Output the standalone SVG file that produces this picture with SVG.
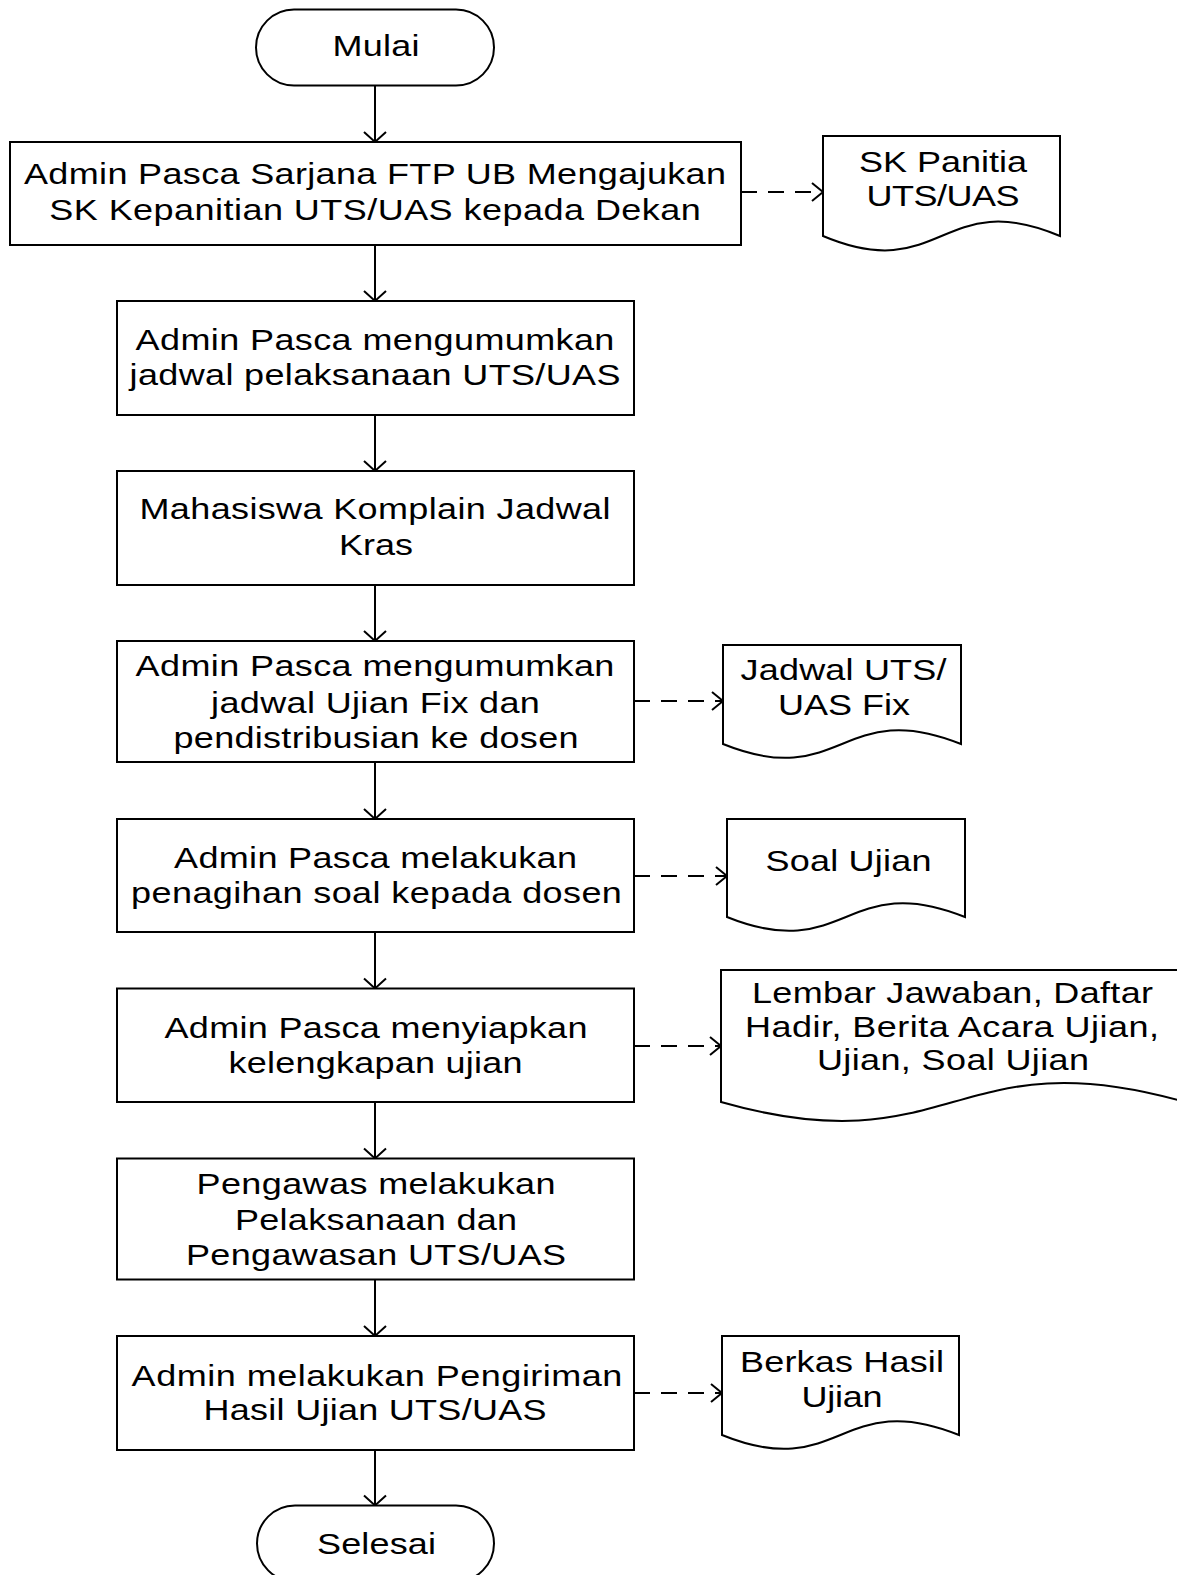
<svg xmlns="http://www.w3.org/2000/svg" width="1177" height="1575" viewBox="0 0 1177 1575">
<style>
.s{fill:#fff;stroke:#000;stroke-width:2}
.t{font-family:"Liberation Sans",Arial,sans-serif;font-size:30px;fill:#000;text-anchor:middle}
.c{fill:none;stroke:#000;stroke-width:2}
.d{fill:none;stroke:#000;stroke-width:2;stroke-dasharray:16 11}
</style>
<defs>
<marker id="ah" markerUnits="userSpaceOnUse" markerWidth="30" markerHeight="30" viewBox="-15 -15 30 30" refX="0" refY="0" orient="auto">
<path d="M-10,-11 L0,0 L-10,11" fill="none" stroke="#000" stroke-width="2"/>
</marker>
<marker id="ah2" markerUnits="userSpaceOnUse" markerWidth="30" markerHeight="30" viewBox="-15 -15 30 30" refX="0" refY="0" orient="auto">
<path d="M-11,-9 L0,0 L-11,9" fill="none" stroke="#000" stroke-width="2"/>
</marker>
</defs>
<rect width="1177" height="1575" fill="#fff"/>
<g id="connectors">
<line class="c" x1="375" y1="85.5" x2="375" y2="142" marker-end="url(#ah)"/>
<line class="c" x1="375" y1="245" x2="375" y2="301" marker-end="url(#ah)"/>
<line class="c" x1="375" y1="415" x2="375" y2="471" marker-end="url(#ah)"/>
<line class="c" x1="375" y1="585" x2="375" y2="641" marker-end="url(#ah)"/>
<line class="c" x1="375" y1="762" x2="375" y2="819" marker-end="url(#ah)"/>
<line class="c" x1="375" y1="932" x2="375" y2="988.5" marker-end="url(#ah)"/>
<line class="c" x1="375" y1="1102" x2="375" y2="1158.5" marker-end="url(#ah)"/>
<line class="c" x1="375" y1="1279.5" x2="375" y2="1336" marker-end="url(#ah)"/>
<line class="c" x1="375" y1="1450" x2="375" y2="1505.5" marker-end="url(#ah)"/>
<line class="d" x1="741" y1="192" x2="823" y2="192" marker-end="url(#ah2)"/>
<line class="d" x1="634" y1="701" x2="723" y2="701" marker-end="url(#ah2)"/>
<line class="d" x1="634" y1="876" x2="727" y2="876" marker-end="url(#ah2)"/>
<line class="d" x1="634" y1="1046" x2="721" y2="1046" marker-end="url(#ah2)"/>
<line class="d" x1="634" y1="1393" x2="722" y2="1393" marker-end="url(#ah2)"/>
</g>
<g id="mulai">
<rect class="s" x="256" y="9.5" width="238" height="76" rx="38" ry="38"/>
<text class="t" transform="translate(376,56) scale(1.2,1)" textLength="72.5">Mulai</text>
</g>
<g id="box1">
<rect class="s" x="10" y="142" width="731" height="103"/>
<text class="t" transform="translate(375,184.3) scale(1.2,1)" textLength="585">Admin Pasca Sarjana FTP UB Mengajukan</text>
<text class="t" transform="translate(375,220) scale(1.2,1)" textLength="543">SK Kepanitian UTS/UAS kepada Dekan</text>
</g>
<g id="doc-sk">
<path class="s" d="M823,136 H1060 V236 C941.5,186 941.5,286 823,236 Z"/>
<text class="t" transform="translate(943,171.7) scale(1.2,1)" textLength="140">SK Panitia</text>
<text class="t" transform="translate(943,206) scale(1.2,1)" textLength="127.5">UTS/UAS</text>
</g>
<g id="box2">
<rect class="s" x="117" y="301" width="517" height="114"/>
<text class="t" transform="translate(375,349.6) scale(1.2,1)" textLength="399">Admin Pasca mengumumkan</text>
<text class="t" transform="translate(375,385.4) scale(1.2,1)" textLength="409">jadwal pelaksanaan UTS/UAS</text>
</g>
<g id="box3">
<rect class="s" x="117" y="471" width="517" height="114"/>
<text class="t" transform="translate(375,519) scale(1.2,1)" textLength="392.5">Mahasiswa Komplain Jadwal</text>
<text class="t" transform="translate(376,554.5) scale(1.2,1)" textLength="61.7">Kras</text>
</g>
<g id="box4">
<rect class="s" x="117" y="641" width="517" height="121"/>
<text class="t" transform="translate(375,676.4) scale(1.2,1)" textLength="399">Admin Pasca mengumumkan</text>
<text class="t" transform="translate(375.5,712.9) scale(1.2,1)" textLength="274">jadwal Ujian Fix dan</text>
<text class="t" transform="translate(376,747.9) scale(1.2,1)" textLength="337.5">pendistribusian ke dosen</text>
</g>
<g id="doc-jadwal">
<path class="s" d="M723,645 H961 V744 C842,696 842,792 723,744 Z"/>
<text class="t" transform="translate(843.5,680) scale(1.2,1)" textLength="171.7">Jadwal UTS/</text>
<text class="t" transform="translate(844,715) scale(1.2,1)" textLength="110">UAS Fix</text>
</g>
<g id="box5">
<rect class="s" x="117" y="819" width="517" height="113"/>
<text class="t" transform="translate(375.5,868) scale(1.2,1)" textLength="335.8">Admin Pasca melakukan</text>
<text class="t" transform="translate(376.5,903) scale(1.2,1)" textLength="409">penagihan soal kepada dosen</text>
</g>
<g id="doc-soal">
<path class="s" d="M727,819 H965 V917 C846,869 846,965 727,917 Z"/>
<text class="t" transform="translate(848.5,870.7) scale(1.2,1)" textLength="138.3">Soal Ujian</text>
</g>
<g id="box6">
<rect class="s" x="117" y="988.5" width="517" height="113.5"/>
<text class="t" transform="translate(376,1038) scale(1.2,1)" textLength="352.5">Admin Pasca menyiapkan</text>
<text class="t" transform="translate(375.5,1072.5) scale(1.2,1)" textLength="245">kelengkapan ujian</text>
</g>
<g id="doc-lembar">
<path class="s" d="M721,970 H1185 V1102 C953,1036 953,1168 721,1102 Z"/>
<text class="t" transform="translate(952.5,1003) scale(1.2,1)" textLength="334.2">Lembar Jawaban, Daftar</text>
<text class="t" transform="translate(952,1037) scale(1.2,1)" textLength="345">Hadir, Berita Acara Ujian,</text>
<text class="t" transform="translate(953,1070) scale(1.2,1)" textLength="226.7">Ujian, Soal Ujian</text>
</g>
<g id="box7">
<rect class="s" x="117" y="1158.5" width="517" height="121"/>
<text class="t" transform="translate(376,1194) scale(1.2,1)" textLength="299.2">Pengawas melakukan</text>
<text class="t" transform="translate(376,1229.6) scale(1.2,1)" textLength="235">Pelaksanaan dan</text>
<text class="t" transform="translate(376,1264.6) scale(1.2,1)" textLength="316.7">Pengawasan UTS/UAS</text>
</g>
<g id="box8">
<rect class="s" x="117" y="1336" width="517" height="114"/>
<text class="t" transform="translate(377,1386) scale(1.2,1)" textLength="409">Admin melakukan Pengiriman</text>
<text class="t" transform="translate(375,1420) scale(1.2,1)" textLength="285.8">Hasil Ujian UTS/UAS</text>
</g>
<g id="doc-berkas">
<path class="s" d="M722,1336 H959 V1435 C840.5,1387 840.5,1483 722,1435 Z"/>
<text class="t" transform="translate(842,1371.7) scale(1.2,1)" textLength="170">Berkas Hasil</text>
<text class="t" transform="translate(842,1407) scale(1.2,1)" textLength="67.5">Ujian</text>
</g>
<g id="selesai">
<rect class="s" x="257" y="1505.5" width="237" height="76" rx="38" ry="38"/>
<text class="t" transform="translate(376.5,1554) scale(1.2,1)" textLength="99.2">Selesai</text>
</g>
</svg>
